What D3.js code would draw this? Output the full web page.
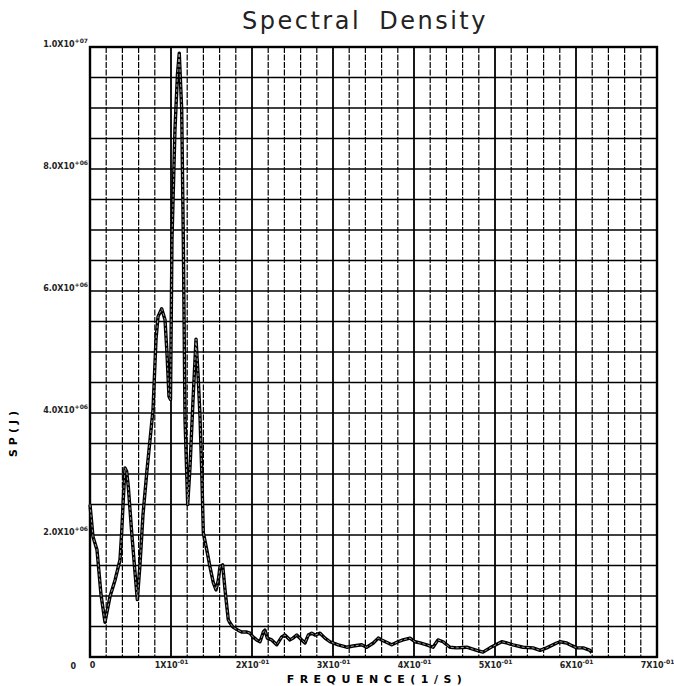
<!DOCTYPE html>
<html>
<head>
	<meta charset="utf-8">
	<title>Spectral Density</title>
	<script src="https://d3js.org/d3.v7.min.js"></script>
	<style>
		body { margin: 0; background: #fff; }
		text { font-family: "DejaVu Sans", sans-serif; }
	</style>
</head>
<body>
<script type="text/javascript">
	// frequency (Hz) and spectral density (x 10^6)
	var freq = [0.000, 0.0037, 0.0086, 0.0136, 0.0185, 0.0247, 0.0309, 0.0370, 0.0391, 0.0411,
		0.0432, 0.0453, 0.0473, 0.0515, 0.0556, 0.0584, 0.0617, 0.0654, 0.0704, 0.0741,
		0.0778, 0.0815, 0.0840, 0.0885, 0.0926, 0.0951, 0.0975, 0.0994, 0.1012, 0.1049,
		0.1080, 0.1102, 0.1132, 0.1152, 0.1173, 0.1206, 0.1235, 0.1272, 0.1309, 0.1337,
		0.1358, 0.1379, 0.1399, 0.1441, 0.1481, 0.1522, 0.1556, 0.1584, 0.1605, 0.1638,
		0.1667, 0.1707, 0.1728, 0.1765, 0.1827, 0.1873, 0.1935, 0.1975, 0.2012, 0.2058,
		0.2099, 0.2140, 0.2160, 0.2189, 0.2243, 0.2305, 0.2367, 0.2407, 0.2469, 0.2506,
		0.2552, 0.2614, 0.2654, 0.2695, 0.2737, 0.2778, 0.2840, 0.2901, 0.2963, 0.3065,
		0.3169, 0.3247, 0.3354, 0.3416, 0.3498, 0.3559, 0.3601, 0.3679, 0.3725, 0.3802,
		0.3864, 0.3951, 0.4012, 0.4074, 0.4157, 0.4235, 0.4296, 0.4358, 0.4444, 0.4527,
		0.4651, 0.4774, 0.4852, 0.4938, 0.5083, 0.5144, 0.5222, 0.5346, 0.5469, 0.5556,
		0.5638, 0.5762, 0.5802, 0.5885, 0.5926, 0.6009, 0.6090, 0.6173, 0.6194];

	var sp = [2.50, 1.97, 1.76, 1.02, 0.57, 0.99, 1.26, 1.59, 2.04, 2.58,
		3.10, 3.04, 2.79, 2.04, 1.38, 0.94, 1.51, 2.33, 3.07, 3.56,
		4.06, 5.21, 5.58, 5.71, 5.53, 4.96, 4.27, 4.22, 6.85, 8.65,
		9.56, 9.90, 8.98, 6.85, 3.89, 2.50, 3.12, 4.22, 5.21, 4.55,
		3.94, 3.07, 2.04, 1.76, 1.48, 1.22, 1.10, 1.26, 1.48, 1.51,
		1.10, 0.61, 0.56, 0.49, 0.44, 0.41, 0.41, 0.39, 0.33, 0.28,
		0.25, 0.41, 0.44, 0.31, 0.28, 0.20, 0.33, 0.36, 0.28, 0.31,
		0.36, 0.28, 0.23, 0.36, 0.39, 0.36, 0.39, 0.31, 0.25, 0.20,
		0.16, 0.18, 0.20, 0.16, 0.23, 0.31, 0.28, 0.23, 0.20, 0.25,
		0.28, 0.31, 0.25, 0.23, 0.20, 0.16, 0.28, 0.25, 0.16, 0.15,
		0.16, 0.11, 0.08, 0.15, 0.25, 0.23, 0.20, 0.16, 0.15, 0.11,
		0.15, 0.23, 0.25, 0.23, 0.20, 0.15, 0.15, 0.11, 0.07];

	var xTickValues = [0, 0.1, 0.2, 0.3, 0.4, 0.5, 0.6, 0.7];
	var xTickText = ["0", "1X10", "2X10", "3X10", "4X10", "5X10", "6X10", "7X10"];
	var xTickExp = ["", "-01", "-01", "-01", "-01", "-01", "-01", "-01"];

	var yTickValues = [0, 2, 4, 6, 8, 10];
	var yTickText = ["0", "2.0X10", "4.0X10", "6.0X10", "8.0X10", "1.0X10"];
	var yTickExp = ["", "+06", "+06", "+06", "+06", "+07"];

	var svgWidth = 674, svgHeight = 686;
	var plotLeft = 90, plotRight = 657, plotTop = 47, plotBottom = 657;

	var svg = d3.select("body").append("svg")
		.attr("width", svgWidth)
		.attr("height", svgHeight);

	var x = d3.scaleLinear().domain([0, 0.7]).range([plotLeft, plotRight]);
	var y = d3.scaleLinear().domain([0, 10]).range([plotBottom, plotTop]);

	// grille : 5 divisions par graduation en x, 4 en y
	var minorX = d3.range(0, 36).map(function(i) { return i * 0.02; });
	var minorY = d3.range(0, 21).map(function(i) { return i * 0.5; });

	var grid = svg.append("g");
	grid.selectAll(".hy").data(minorY).enter().append("line")
		.attr("x1", plotLeft).attr("x2", plotRight)
		.attr("y1", function(d) { return y(d); })
		.attr("y2", function(d) { return y(d); })
		.attr("stroke", "#000")
		.attr("stroke-width", 1.6);

	grid.selectAll(".vx").data(minorX).enter().append("line")
		.attr("y1", plotTop).attr("y2", plotBottom)
		.attr("x1", function(d) { return x(d); })
		.attr("x2", function(d) { return x(d); })
		.attr("stroke", "#000")
		.attr("stroke-width", function(d, i) { return i % 5 == 0 ? 1.8 : 1.2; })
		.attr("stroke-dasharray", function(d, i) { return i % 5 == 0 ? null : "6,1.5"; });

	svg.append("rect")
		.attr("x", plotLeft).attr("y", plotTop)
		.attr("width", plotRight - plotLeft).attr("height", plotBottom - plotTop)
		.attr("fill", "none")
		.attr("stroke", "#000")
		.attr("stroke-width", 2.4);

	// axes (labels faits a la main pour les exposants)
	var xAxis = svg.append("g")
		.attr("transform", "translate(0," + plotBottom + ")")
		.call(d3.axisBottom(x).tickValues(xTickValues).tickSize(0).tickFormat(""));
	xAxis.select(".domain").remove();
	xAxis.selectAll(".tick").each(function(d, i) {
		var t = d3.select(this).append("text")
			.attr("y", 11)
			.attr("x", i == 0 ? 2 : 0)
			.attr("text-anchor", "middle")
			.attr("fill", "#222")
			.attr("font-size", 8)
			.attr("font-weight", "bold")
			.text(xTickText[i]);
		if (xTickExp[i]) {
			t.append("tspan").attr("dy", -4).attr("font-size", 6).text(xTickExp[i]);
		}
	});

	var yAxis = svg.append("g")
		.attr("transform", "translate(" + plotLeft + ",0)")
		.call(d3.axisLeft(y).tickValues(yTickValues).tickSize(0).tickFormat(""));
	yAxis.select(".domain").remove();
	yAxis.selectAll(".tick").each(function(d, i) {
		var t = d3.select(this).append("text")
			.attr("x", i == 0 ? -14 : -2)
			.attr("y", i == 0 ? 11 : -1)
			.attr("text-anchor", "end")
			.attr("fill", "#222")
			.attr("font-size", 8)
			.attr("font-weight", "bold")
			.text(yTickText[i]);
		if (yTickExp[i]) {
			t.append("tspan").attr("dy", -4).attr("font-size", 6).text(yTickExp[i]);
		}
	});

	// courbe (trait double du traceur)
	var data = freq.map(function(f, i) { return { f: f, v: sp[i] }; });
	var line = d3.line()
		.x(function(d) { return x(d.f); })
		.y(function(d) { return y(d.v); });

	svg.append("path")
		.datum(data)
		.attr("d", line)
		.attr("fill", "none")
		.attr("stroke", "#000")
		.attr("stroke-width", 3.4)
		.attr("stroke-linejoin", "round");

	svg.append("path")
		.datum(data)
		.attr("d", line)
		.attr("fill", "none")
		.attr("stroke", "#aaa")
		.attr("stroke-width", 0.9)
		.attr("stroke-dasharray", "3,2")
		.attr("stroke-linejoin", "round");

	// titres
	svg.append("text")
		.attr("x", 365).attr("y", 29)
		.attr("text-anchor", "middle")
		.attr("font-size", 24)
		.attr("letter-spacing", 2.5)
		.attr("word-spacing", 8)
		.attr("fill", "#222")
		.text("Spectral Density");

	svg.append("text")
		.attr("x", 377).attr("y", 683)
		.attr("text-anchor", "middle")
		.attr("font-size", 11)
		.attr("font-weight", "bold")
		.attr("letter-spacing", 5.5)
		.text("FREQUENCE(1/S)");

	svg.append("text")
		.attr("transform", "translate(17,432) rotate(-90)")
		.attr("text-anchor", "middle")
		.attr("font-size", 11)
		.attr("font-weight", "bold")
		.attr("letter-spacing", 4)
		.text("SP(J)");
</script>
</body>
</html>
